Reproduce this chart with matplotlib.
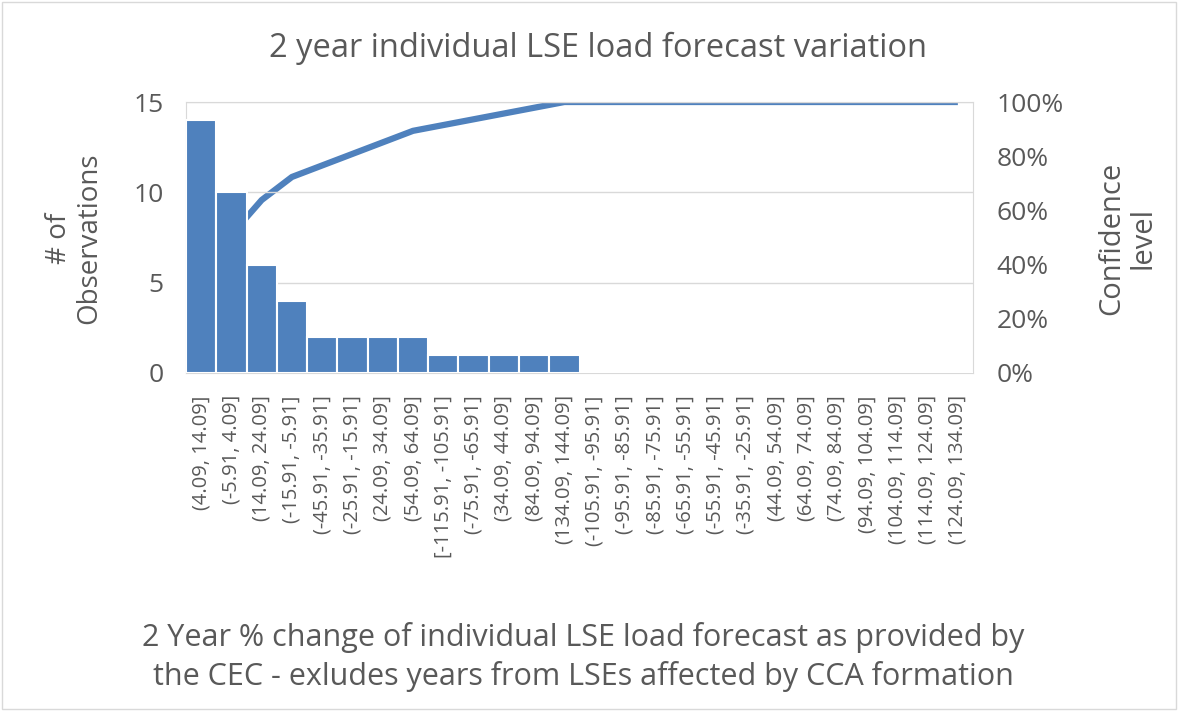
import matplotlib.pyplot as plt
import numpy as np
from matplotlib.ticker import PercentFormatter

bins = ['(4.09, 14.09]', '(-5.91, 4.09]', '(14.09, 24.09]', '(-15.91, -5.91]',
        '(-45.91, -35.91]', '(-25.91, -15.91]', '(24.09, 34.09]', '(54.09, 64.09]',
        '[-115.91, -105.91]', '(-75.91, -65.91]', '(34.09, 44.09]', '(84.09, 94.09]',
        '(134.09, 144.09]', '(-105.91, -95.91]', '(-95.91, -85.91]', '(-85.91, -75.91]',
        '(-65.91, -55.91]', '(-55.91, -45.91]', '(-35.91, -25.91]', '(44.09, 54.09]',
        '(64.09, 74.09]', '(74.09, 84.09]', '(94.09, 104.09]', '(104.09, 114.09]',
        '(114.09, 124.09]', '(124.09, 134.09]']
counts = [14, 10, 6, 4, 2, 2, 2, 2, 1, 1, 1, 1, 1,
          0, 0, 0, 0, 0, 0, 0, 0, 0, 0, 0, 0, 0]

cum_pct = np.cumsum(counts) / np.sum(counts) * 100

blue = '#4F81BD'
gray = '#595959'
light = '#D9D9D9'
plt.rcParams['font.family'] = ['Open Sans', 'DejaVu Sans']

W, H = 1178, 711
fig = plt.figure(figsize=(W / 100, H / 100), dpi=100)
ax = fig.add_axes([186 / W, 1 - 373 / H, 787 / W, 271 / H])
x = np.arange(len(bins))

ax.bar(x, counts, width=1.0, color=blue, edgecolor='white', linewidth=1.5, zorder=3)
ax.set_xlim(-0.5, len(bins) - 0.5)
ax.set_ylim(0, 15)
ax.set_yticks([0, 5, 10, 15])
ax.grid(axis='y', color=light, linewidth=1, zorder=0)
ax.set_xticks(x)
ax.set_xticklabels(bins, rotation=90, fontsize=14.5, color=gray)
ax.tick_params(axis='y', labelsize=19, colors=gray, length=0, pad=16)
ax.tick_params(axis='x', length=0, pad=16)
for s in ax.spines.values():
    s.set_color(light)

ax2 = ax.twinx()
ax2.plot(x, cum_pct, color=blue, linewidth=4.5, solid_capstyle='butt')
ax2.set_ylim(0, 100)
ax2.set_yticks([0, 20, 40, 60, 80, 100])
ax2.yaxis.set_major_formatter(PercentFormatter(decimals=0))
ax2.tick_params(axis='y', labelsize=19, colors=gray, length=0, pad=17)
for s in ax2.spines.values():
    s.set_visible(False)
# bars in front of the line
ax.set_zorder(ax2.get_zorder() + 1)
ax.patch.set_visible(False)

fig.text(74 / W, 1 - 238 / H, '# of\nObservations', rotation=90, ha='center', va='center',
         fontsize=20, color=gray, linespacing=1.1)
fig.text(1127 / W, 1 - 238 / H, 'Confidence\nlevel', rotation=90, ha='center', va='center',
         fontsize=21, color=gray, linespacing=1.1)

fig.text(598 / W, 1 - 48 / H, '2 year individual LSE load forecast variation',
         ha='center', va='center', fontsize=23.5, color=gray)
fig.text(583 / W, 1 - 657 / H,
         '2 Year % change of individual LSE load forecast as provided by\n'
         'the CEC - exludes years from LSEs affected by CCA formation',
         ha='center', va='center', fontsize=22, color=gray, linespacing=1.3)

fig.patches.append(plt.Rectangle((0.002, 0.003), 0.996, 0.994, transform=fig.transFigure,
                                 fill=False, edgecolor=light, linewidth=1))

fig.savefig('out.png', dpi=100)
